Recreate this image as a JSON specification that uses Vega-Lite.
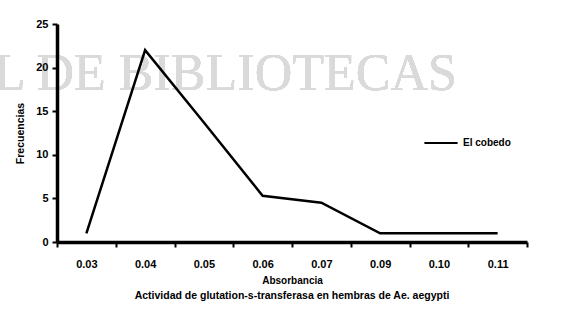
{
  "$schema": "https://vega.github.io/schema/vega-lite/v6.json",
  "width": 470,
  "height": 218,
  "autosize": {"type": "none"},
  "padding": {"left": 57, "top": 24, "right": 34, "bottom": 79},
  "background": "white",
  "config": {
    "view": {"stroke": null},
    "font": "Liberation Sans",
    "legend": {"orient": "none", "legendX": 366, "legendY": 101}
  },
  "title": {
    "text": "Actividad de glutation-s-transferasa en hembras de Ae. aegypti",
    "orient": "bottom",
    "anchor": "middle",
    "fontSize": 10.5,
    "fontWeight": "bold",
    "color": "black",
    "offset": 6
  },
  "data": {
    "values": [
      {"absorbancia": "0.03", "frecuencia": 1, "serie": "El cobedo"},
      {"absorbancia": "0.04", "frecuencia": 22, "serie": "El cobedo"},
      {"absorbancia": "0.05", "frecuencia": 13.7, "serie": "El cobedo"},
      {"absorbancia": "0.06", "frecuencia": 5.3, "serie": "El cobedo"},
      {"absorbancia": "0.07", "frecuencia": 4.5, "serie": "El cobedo"},
      {"absorbancia": "0.09", "frecuencia": 1, "serie": "El cobedo"},
      {"absorbancia": "0.10", "frecuencia": 1, "serie": "El cobedo"},
      {"absorbancia": "0.11", "frecuencia": 1, "serie": "El cobedo"}
    ]
  },
  "encoding": {
    "x": {
      "field": "absorbancia",
      "type": "ordinal",
      "scale": {"type": "band", "paddingInner": 0, "paddingOuter": 0, "domain": ["0.03", "0.04", "0.05", "0.06", "0.07", "0.09", "0.10", "0.11"]},
      "axis": {
        "zindex": 1,
        "title": "Absorbancia",
        "titleFontSize": 10,
        "titleFontWeight": "bold",
        "titleColor": "black",
        "titlePadding": 6,
        "labelAngle": 0,
        "labelFontSize": 11,
        "labelFontWeight": "bold",
        "labelColor": "black",
        "labelPadding": 11,
        "tickBand": "extent",
        "tickSize": 5,
        "tickWidth": 2,
        "tickColor": "black",
        "domainColor": "black",
        "domainWidth": 3.5
      }
    },
    "y": {
      "field": "frecuencia",
      "type": "quantitative",
      "scale": {"domain": [0, 25], "nice": false},
      "axis": {
        "zindex": 1,
        "title": "Frecuencias",
        "titleFontSize": 10.5,
        "titleFontWeight": "bold",
        "titleColor": "black",
        "titlePadding": 10,
        "values": [0, 5, 10, 15, 20, 25],
        "grid": false,
        "labelFontSize": 11,
        "labelFontWeight": "bold",
        "labelColor": "black",
        "labelPadding": 4,
        "tickSize": 5,
        "tickWidth": 2,
        "tickColor": "black",
        "domainColor": "black",
        "domainWidth": 3.5
      }
    }
  },
  "layer": [
    {
      "mark": {"type": "text", "font": "Liberation Serif", "fontSize": 52, "color": "#dadada", "align": "right", "baseline": "alphabetic", "dx": 18},
      "encoding": {
        "x": {"datum": "0.10", "type": "ordinal"},
        "y": {"datum": 17.4, "type": "quantitative"},
        "text": {"value": "L DE BIBLIOTECAS"}
      }
    },
    {
      "mark": {"type": "line", "strokeWidth": 2.5},
      "encoding": {
        "color": {
          "field": "serie",
          "type": "nominal",
          "scale": {"range": ["black"]},
          "legend": {
            "title": null,
            "symbolType": "stroke",
            "symbolStrokeWidth": 2,
            "symbolSize": 1100,
            "labelFontSize": 10,
            "labelFontWeight": "bold",
            "labelColor": "black"
          }
        }
      }
    }
  ]
}
